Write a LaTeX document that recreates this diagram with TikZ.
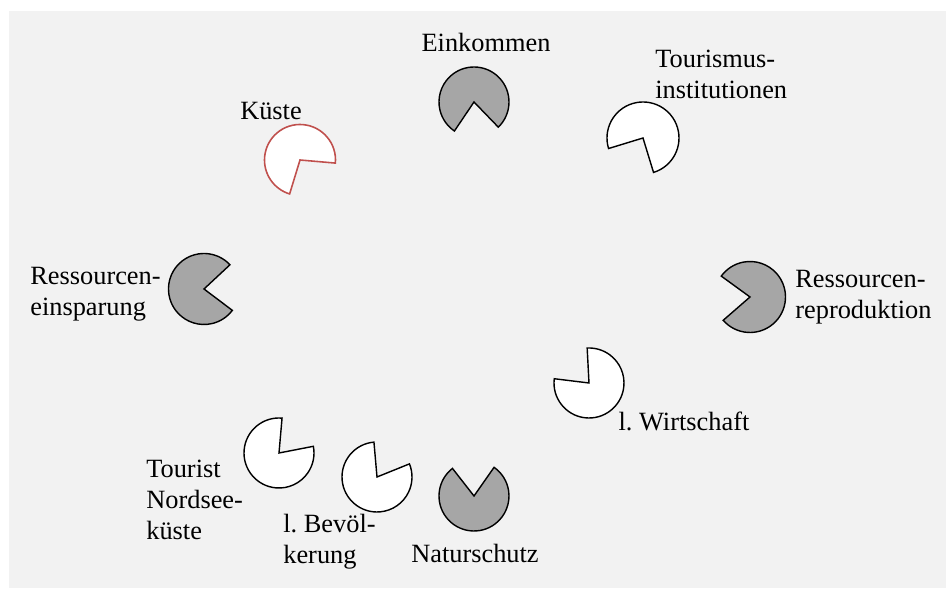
\documentclass[tikz,border=0pt]{standalone}
\usepackage{fontspec}
\setmainfont{Liberation Serif}
\frenchspacing

\definecolor{bggrey}{HTML}{F2F2F2}
\definecolor{piegrey}{HTML}{A6A6A6}
\definecolor{kred}{HTML}{C0504D}

\tikzset{
	greypie/.style={draw=black, fill=piegrey, line width=0.8pt},
	whitepie/.style={draw=black, fill=white, line width=0.8pt},
	redpie/.style={draw=kred, fill=white, line width=0.9pt},
	lbl/.style={inner sep=0pt, align=left, font=\fontsize{15}{17.6}\selectfont}
}

\begin{document}
\begin{tikzpicture}
		\useasboundingbox (0,0) rectangle (18.98,11.78);
		\fill[bggrey] (0.18,0.02) rectangle (18.92,11.56);

		% top row
		\draw[greypie] (9.48,9.74) -- ++(-46:0.7) arc[start angle=-46, end angle=236, radius=0.7] -- cycle;
		\node[lbl] (eink) at (9.72,10.94) {Einkommen};

		\draw[whitepie] (12.86,9.02) -- ++(-73:0.72) arc[start angle=-73, end angle=197, radius=0.72] -- cycle;
		\node[lbl, anchor=west] (tinst) at (13.10,10.30) {Tourismus-\\institutionen};

		\draw[redpie] (6.00,8.58) -- ++(-5:0.71) arc[start angle=-5, end angle=253, radius=0.71] -- cycle;
		\node[lbl] (kueste) at (5.42,9.56) {Küste};

		% middle row
		\draw[greypie] (4.08,6.00) -- ++(43:0.71) arc[start angle=43, end angle=323, radius=0.71] -- cycle;
		\node[lbl, anchor=west] (einsp) at (0.60,5.90) {Ressourcen-\\einsparung};

		\draw[greypie] (15.00,5.84) -- ++(221:0.71) arc[start angle=221, end angle=504, radius=0.71] -- cycle;
		\node[lbl, anchor=west] (repro) at (15.90,5.83) {Ressourcen-\\reproduktion};

		\draw[whitepie] (11.78,4.12) -- ++(173:0.7) arc[start angle=173, end angle=453, radius=0.7] -- cycle;
		\node[lbl] (wirt) at (13.68,3.36) {l. Wirtschaft};

		% bottom row
		\draw[whitepie] (5.58,2.72) -- ++(85:0.7) arc[start angle=85, end angle=371, radius=0.7] -- cycle;
		\node[lbl, anchor=west] (tour) at (2.92,1.78) {Tourist\\Nordsee-\\küste};

		\draw[whitepie] (7.54,2.24) -- ++(95:0.7) arc[start angle=95, end angle=382, radius=0.7] -- cycle;
		\node[lbl, anchor=west] (bev) at (5.66,0.95) {l. Bevöl-\\kerung};

		\draw[greypie] (9.48,1.86) -- ++(128:0.7) arc[start angle=128, end angle=415, radius=0.7] -- cycle;
		\node[lbl] (natur) at (9.50,0.72) {Naturschutz};

	\end{tikzpicture}
\end{document}
